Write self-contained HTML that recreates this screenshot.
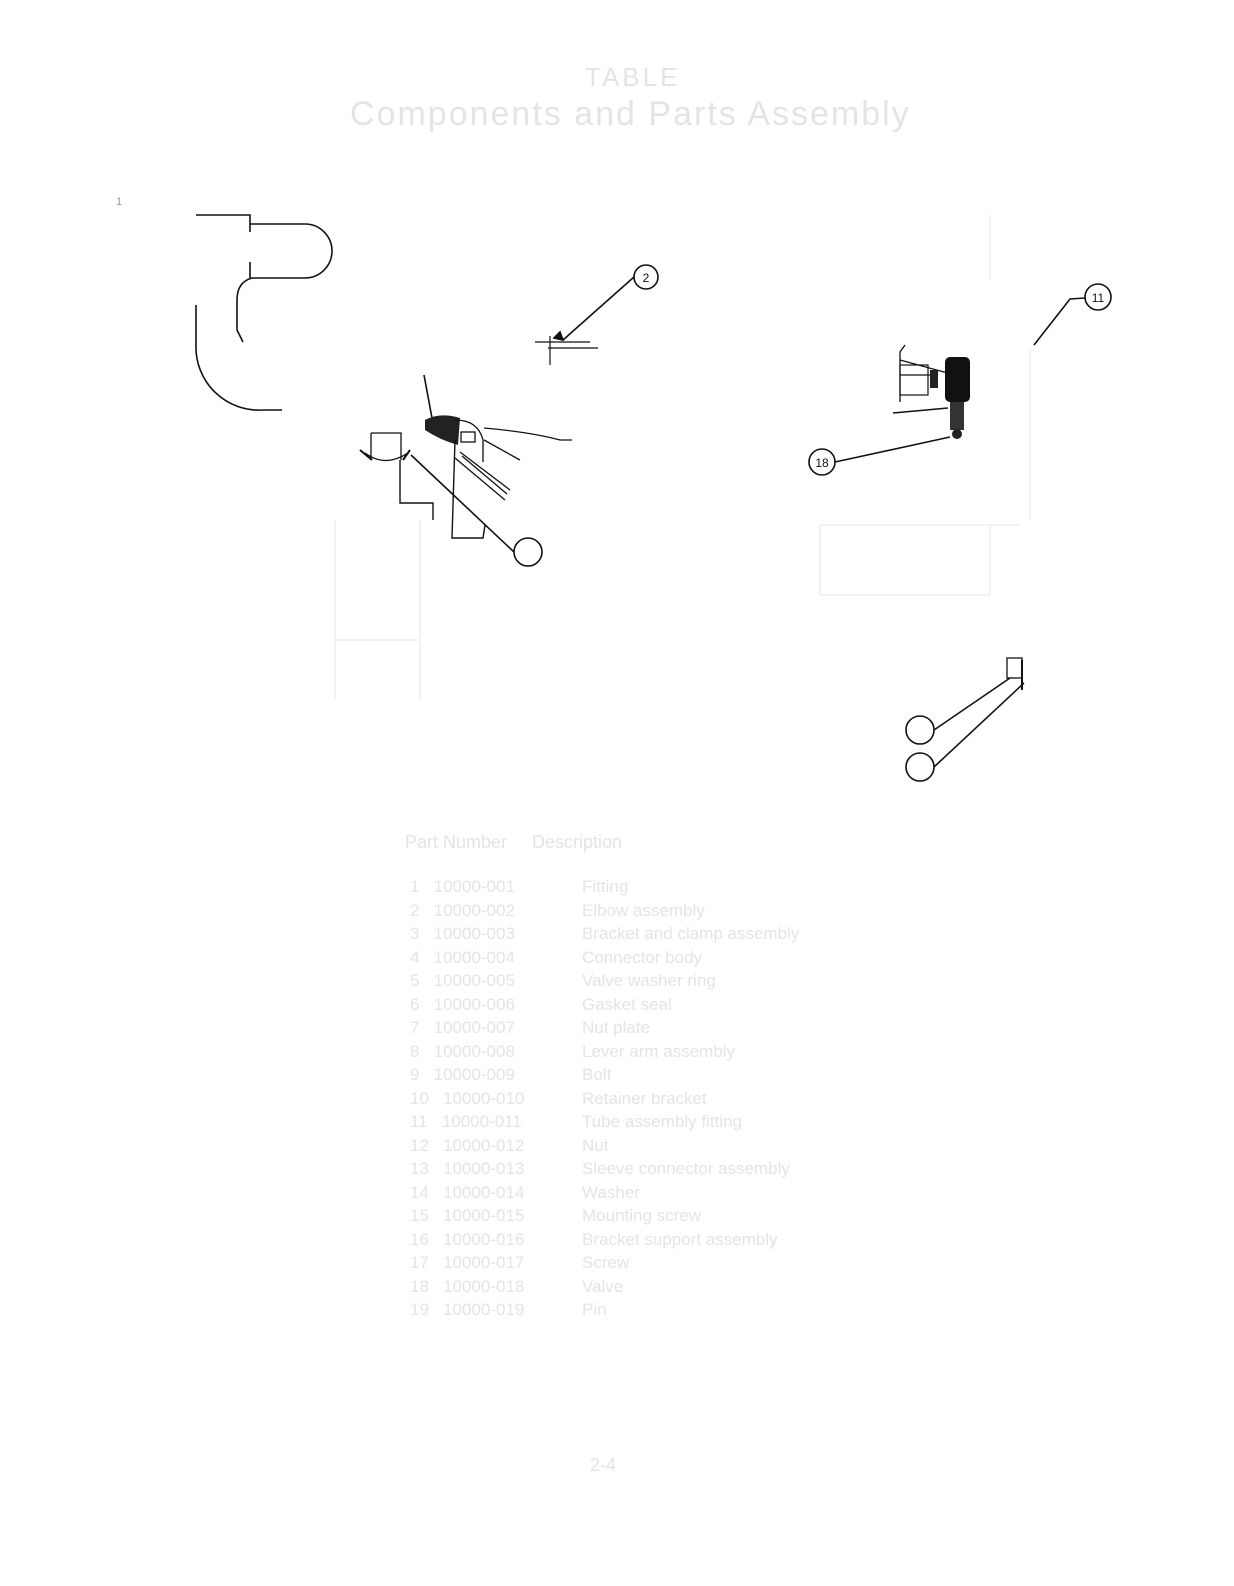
<!DOCTYPE html>
<html><head><meta charset="utf-8"><style>
html,body{margin:0;padding:0;background:#fff;}
body{width:1234px;height:1586px;position:relative;overflow:hidden;font-family:"Liberation Sans",sans-serif;}
.t{position:absolute;color:#e4e4e4;white-space:nowrap;}
</style></head><body>
<div class="t" style="left:585px;top:62px;font-size:26px;letter-spacing:3px;">TABLE</div>
<div class="t" style="left:350px;top:95px;font-size:34px;letter-spacing:2px;">Components and Parts Assembly</div>
<div class="t" style="left:116px;top:196px;font-size:11px;color:#999;">1</div>
<svg width="1234" height="1586" style="position:absolute;left:0;top:0" fill="none" stroke="#111" stroke-width="1.6">
<!-- left pipe -->
<path d="M196 215 H250 V232"/>
<path d="M250 224 H305 A27 27 0 0 1 305 278 H252"/>
<path d="M250 262 V278"/>
<path d="M252 278 Q237 282 237 300 V330 L243 342"/>
<path d="M196 305 V345 A63 63 0 0 0 263 410 H282"/>
<!-- callout 2 -->
<circle cx="646" cy="277" r="12"/>
<text x="646" y="282" font-size="12" fill="#111" stroke="none" text-anchor="middle" font-family="Liberation Sans">2</text>
<path d="M634 277 L563 340"/>
<path d="M535 342 H590 M548 348 H598 M550 336 V365" stroke-width="1.2"/>
<path d="M563 340 l-3 -8 l-6 6 z" fill="#111"/>
<!-- center part -->
<path d="M424 375 L432 418"/>
<path d="M425 420 Q440 412 460 418 L458 445 Q440 440 425 430 Z" fill="#222" stroke="none"/>
<path d="M455 420 Q478 420 483 440 V462 M460 452 L510 490 M462 456 L507 494 M455 458 L505 500" stroke-width="1.3"/>
<rect x="461" y="432" width="14" height="10" stroke-width="1.3"/>
<path d="M484 428 Q530 432 560 440 H572 M484 440 L520 460" stroke-width="1.3"/>
<path d="M455 440 L452 538 H483 L485 525" stroke-width="1.4"/>
<!-- left box -->
<path d="M371 433 H401 V460 M371 433 V460 M365 453 Q385 468 408 453" stroke-width="1.3"/>
<path d="M360 450 L372 460 M403 460 L410 450" stroke-width="2"/>
<path d="M400 460 V503 H433 V520" stroke-width="1.4"/>
<circle cx="528" cy="552" r="14"/>
<path d="M514 552 L411 455"/>
<!-- callout 11 -->
<circle cx="1098" cy="297" r="13"/>
<text x="1098" y="302" font-size="12" fill="#111" stroke="none" text-anchor="middle" font-family="Liberation Sans">11</text>
<path d="M1085 298 L1070 299 L1034 345"/>
<!-- right component -->
<path d="M905 345 L900 352 V402 M900 360 L955 375 M900 375 H930" stroke-width="1.3"/>
<rect x="900" y="365" width="28" height="30" stroke-width="1.2"/>
<rect x="930" y="370" width="8" height="18" fill="#222" stroke="none"/>
<rect x="945" y="357" width="25" height="45" rx="5" fill="#111" stroke="none"/>
<rect x="950" y="402" width="14" height="28" fill="#333" stroke="none"/>
<circle cx="957" cy="434" r="5" fill="#222" stroke="none"/>
<path d="M893 413 L948 408"/>
<circle cx="822" cy="462" r="13"/>
<text x="822" y="467" font-size="12" fill="#111" stroke="none" text-anchor="middle" font-family="Liberation Sans">18</text>
<path d="M835 462 L950 437"/>
<!-- bottom right -->
<rect x="1007" y="658" width="15" height="20" stroke-width="1.3"/>
<path d="M1022 660 V690" stroke-width="2"/>
<circle cx="920" cy="730" r="14"/>
<circle cx="920" cy="767" r="14"/>
<path d="M934 730 L1010 678 M934 767 L1024 683"/>
<!-- faint background drawing -->
<g stroke="#eee" stroke-width="1.5">
<path d="M335 520 V700 M420 520 V700 M335 640 H420"/>
<path d="M820 525 V595 H990 V525 M820 525 H1020"/>
<path d="M990 215 V280 M1030 350 V520"/>
</g>
</svg>
<div class="t" style="left:405px;top:832px;font-size:18px;">Part Number &nbsp;&nbsp;&nbsp; Description</div>
<div class="t" style="left:410px;top:875px;font-size:17px;line-height:23.5px;">
1 &nbsp; 10000-001<br>2 &nbsp; 10000-002<br>3 &nbsp; 10000-003<br>4 &nbsp; 10000-004<br>5 &nbsp; 10000-005<br>6 &nbsp; 10000-006<br>7 &nbsp; 10000-007<br>8 &nbsp; 10000-008<br>9 &nbsp; 10000-009<br>10 &nbsp; 10000-010<br>11 &nbsp; 10000-011<br>12 &nbsp; 10000-012<br>13 &nbsp; 10000-013<br>14 &nbsp; 10000-014<br>15 &nbsp; 10000-015<br>16 &nbsp; 10000-016<br>17 &nbsp; 10000-017<br>18 &nbsp; 10000-018<br>19 &nbsp; 10000-019
</div>
<div class="t" style="left:582px;top:875px;font-size:17px;line-height:23.5px;">
Fitting<br>Elbow assembly<br>Bracket and clamp assembly<br>Connector body<br>Valve washer ring<br>Gasket seal<br>Nut plate<br>Lever arm assembly<br>Bolt<br>Retainer bracket<br>Tube assembly fitting<br>Nut<br>Sleeve connector assembly<br>Washer<br>Mounting screw<br>Bracket support assembly<br>Screw<br>Valve<br>Pin
</div>
<div class="t" style="left:590px;top:1455px;font-size:18px;">2-4</div>
</body></html>
